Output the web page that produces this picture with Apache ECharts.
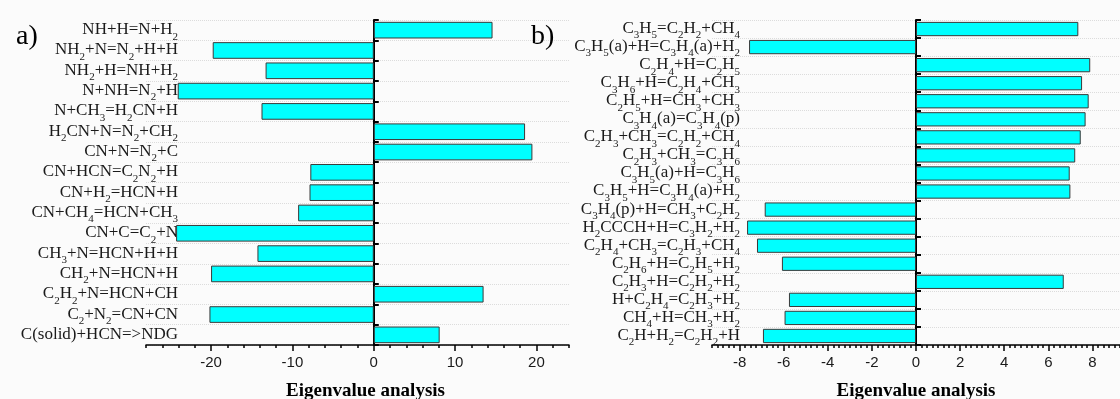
<!DOCTYPE html>
<html>
<head>
<meta charset="utf-8">
<script src="https://cdn.jsdelivr.net/npm/echarts@6/dist/echarts.min.js"></script>
<style>
  html, body { margin: 0; padding: 0; background: #fbfbfb; }
  #chart { width: 1120px; height: 399px; }
</style>
</head>
<body>
<div id="chart"></div>
<script>
// panel a) reactions, top to bottom ("_n" = subscript)
const reactionsA = [
  'NH+H=N+H_2', 'NH_2+N=N_2+H+H', 'NH_2+H=NH+H_2', 'N+NH=N_2+H',
  'N+CH_3=H_2CN+H', 'H_2CN+N=N_2+CH_2', 'CN+N=N_2+C', 'CN+HCN=C_2N_2+H',
  'CN+H_2=HCN+H', 'CN+CH_4=HCN+CH_3', 'CN+C=C_2+N', 'CH_3+N=HCN+H+H',
  'CH_2+N=HCN+H', 'C_2H_2+N=HCN+CH', 'C_2+N_2=CN+CN', 'C(solid)+HCN=>NDG'
]
const valuesA = [14.6, -19.8, -13.3, -24.1, -13.8, 18.6, 19.5, -7.8,
  -7.9, -9.3, -24.3, -14.3, -20.0, 13.5, -20.2, 8.1]

// panel b)
const reactionsB = [
  'C_3H_5=C_2H_2+CH_4', 'C_3H_5(a)+H=C_3H_4(a)+H_2', 'C_2H_4+H=C_2H_5',
  'C_3H_6+H=C_2H_4+CH_3', 'C_2H_5+H=CH_3+CH_3', 'C_3H_4(a)=C_3H_4(p)',
  'C_2H_3+CH_3=C_2H_2+CH_4', 'C_2H_3+CH_3=C_3H_6', 'C_3H_5(a)+H=C_3H_6',
  'C_3H_5+H=C_3H_4(a)+H_2', 'C_3H_4(p)+H=CH_3+C_2H_2', 'H_2CCCH+H=C_3H_2+H_2',
  'C_2H_4+CH_3=C_2H_3+CH_4', 'C_2H_6+H=C_2H_5+H_2', 'C_2H_3+H=C_2H_2+H_2',
  'H+C_2H_4=C_2H_3+H_2', 'CH_4+H=CH_3+H_2', 'C_2H+H_2=C_2H_2+H'
]
const valuesB = [7.36, -7.57, 7.9, 7.53, 7.83, 7.69, 7.47, 7.22, 6.97,
  7.0, -6.86, -7.66, -7.21, -6.08, 6.7, -5.76, -5.96, -6.94]

const ticksA = [-20, -10, 0, 10, 20]
const ticksB = [-8, -6, -4, -2, 0, 2, 4, 6, 8]

const range = (a, b, s) => {
  const out = []
  for (let v = a; v <= b + 1e-9; v += s) out.push(+v.toFixed(2))
  return out
}

const toRich = s => s.split(/_(\d)/)
  .map((p, i) => p === '' ? '' : (i % 2 ? '{s|' + p + '}' : '{n|' + p + '}'))
  .join('')

const serif = '"Liberation Serif", "DejaVu Serif", serif'
const rich = {
  n: { fontFamily: serif, fontSize: 17, color: '#1a1a1a', lineHeight: 18, verticalAlign: 'top' },
  s: { fontFamily: serif, fontSize: 11, color: '#1a1a1a', lineHeight: 11, verticalAlign: 'top', padding: [10, 0, 0, 0] }
}

function valueAxes(grid, min, max, labels, minor, nameShift) {
  const base = {
    type: 'value', gridIndex: grid, min, max, position: 'bottom',
    splitLine: { show: false }
  }
  return [
    Object.assign({}, base, {
      axisLine: { show: true, lineStyle: { color: '#000', width: 1.5 } },
      axisTick: { show: true, customValues: minor, length: 3, lineStyle: { color: '#000', width: 1.5 } },
      axisLabel: {
        customValues: labels, margin: 10,
        fontFamily: '"Liberation Sans", Arial, sans-serif', fontSize: 15, color: '#1a1a1a'
      },
      name: 'Eigenvalue analysis',
      nameLocation: 'middle',
      nameGap: 37,
      nameTextStyle: {
        fontFamily: serif, fontSize: 19, fontWeight: 'bold', color: '#000',
        padding: [0, 0, 0, nameShift]
      }
    }),
    Object.assign({}, base, {
      axisLine: { show: false },
      axisTick: { show: true, customValues: labels, length: 6, lineStyle: { color: '#000', width: 1.5 } },
      axisLabel: { show: false }
    })
  ]
}

function catAxes(grid, xIndex, cats, labelOffset) {
  return [
    {
      type: 'category', gridIndex: grid, data: cats, inverse: true, position: 'left',
      axisLine: { show: true, onZero: true, onZeroAxisIndex: xIndex, lineStyle: { color: '#000', width: 2 } },
      axisTick: { show: true, inside: true, length: 5, lineStyle: { color: '#000', width: 2 } },
      axisLabel: { show: false },
      splitLine: { show: true, lineStyle: { color: '#dcdcdc', type: 'dotted', width: 1 } }
    },
    {
      type: 'category', gridIndex: grid, data: cats, inverse: true, position: 'left',
      offset: labelOffset,
      axisLine: { show: false, onZero: false },
      axisTick: { show: false },
      axisLabel: { interval: 0, margin: 2, formatter: toRich, rich }
    }
  ]
}

const chart = echarts.init(document.getElementById('chart'))
chart.setOption({
  backgroundColor: '#fbfbfb',
  animation: false,
  title: [
    { text: 'a)', left: 11, top: 18, textStyle: { fontFamily: serif, fontSize: 28, fontWeight: 'normal', color: '#000' } },
    { text: 'b)', left: 526, top: 18, textStyle: { fontFamily: serif, fontSize: 28, fontWeight: 'normal', color: '#000' } }
  ],
  grid: [
    { left: 146, top: 20, width: 423, height: 325, containLabel: false, outerBoundsMode: 'none' },
    { left: 712, top: 20, width: 408, height: 325, containLabel: false, outerBoundsMode: 'none' }
  ],
  xAxis: [
    ...valueAxes(0, -28, 24, ticksA, range(-28, 24, 2), 16),
    ...valueAxes(1, -9.25, 9.25, ticksB, range(-9.25, 9.25, 0.25), 0)
  ],
  yAxis: [
    ...catAxes(0, 0, reactionsA, -34),
    ...catAxes(1, 2, reactionsB, -30)
  ],
  series: [
    {
      type: 'bar', xAxisIndex: 0, yAxisIndex: 0, data: valuesA,
      barCategoryGap: '18%',
      itemStyle: { color: '#00ffff', borderColor: '#3a3a3a', borderWidth: 1 }
    },
    {
      type: 'bar', xAxisIndex: 2, yAxisIndex: 2, data: valuesB,
      barCategoryGap: '21%',
      itemStyle: { color: '#00ffff', borderColor: '#3a3a3a', borderWidth: 1 }
    }
  ]
})
</script>
</body>
</html>
